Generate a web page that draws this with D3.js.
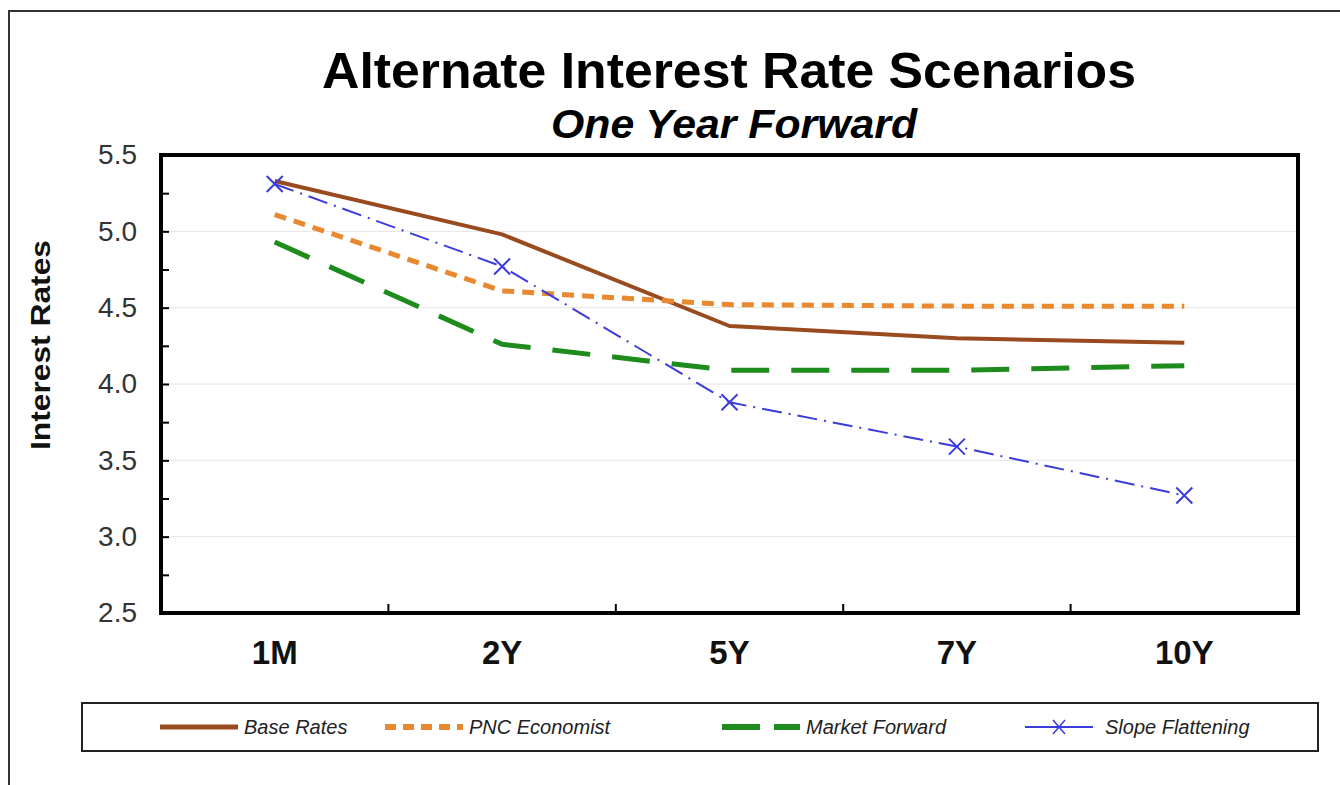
<!DOCTYPE html>
<html>
<head>
<meta charset="utf-8">
<script src="https://cdn.jsdelivr.net/npm/d3@7"></script>
<style>
  body { margin: 0; background: #fff; }
  text { font-family: Arial, "Liberation Sans", sans-serif; }
</style>
</head>
<body>
<script>
var width = 1340;
var height = 785;

// data
var categories = ["1M", "2Y", "5Y", "7Y", "10Y"];
var baseRates = [5.33, 4.98, 4.38, 4.30, 4.27];
var pncEconomist = [5.11, 4.61, 4.52, 4.51, 4.51];
var marketForward = [4.93, 4.26, 4.09, 4.09, 4.12];
var slopeFlattening = [5.31, 4.77, 3.88, 3.59, 3.27];
var yTicks = [2.5, 3.0, 3.5, 4.0, 4.5, 5.0, 5.5];
var yMinorTicks = [2.75, 3.25, 3.75, 4.25, 4.75, 5.25];

var seriesList = [
  { name: "Base Rates", values: baseRates, color: "#9a4a1f", width: 4, dash: null },
  { name: "PNC Economist", values: pncEconomist, color: "#e8892f", width: 5, dash: "12,8" },
  { name: "Market Forward", values: marketForward, color: "#1d8c1d", width: 5, dash: "38,22" },
  { name: "Slope Flattening", values: slopeFlattening, color: "#3b3bdc", width: 2, dash: "20,7,2,7", marker: true }
];

var svg = d3.select("body").append("svg")
  .attr("width", width)
  .attr("height", height);

// outer frame (top and left edges only visible)
svg.append("path")
  .attr("d", "M9,785 L9,11 L1340,11")
  .attr("fill", "none")
  .attr("stroke", "#333")
  .attr("stroke-width", 2);

var plot = { left: 161, top: 155, right: 1298, bottom: 613 };
var plotWidth = plot.right - plot.left;
var plotHeight = plot.bottom - plot.top;

var g = svg.append("g")
  .attr("transform", "translate(" + plot.left + "," + plot.top + ")");

var xScale = d3.scaleBand().domain(categories).range([0, plotWidth]);
var yScale = d3.scaleLinear().domain([2.5, 5.5]).range([plotHeight, 0]);

// gridlines
g.append("g").selectAll("line")
  .data(yTicks.slice(1, -1))
  .join("line")
  .attr("x1", 0).attr("x2", plotWidth)
  .attr("y1", d => yScale(d)).attr("y2", d => yScale(d))
  .attr("stroke", "#e4e4e4")
  .attr("stroke-width", 1);

// y axis: labels + inward major ticks
var yAxis = d3.axisLeft(yScale)
  .tickValues(yTicks)
  .tickFormat(d3.format(".1f"))
  .tickSize(-8)
  .tickPadding(24);
var yAxisGroup = g.append("g").call(yAxis);
yAxisGroup.select(".domain").remove();
yAxisGroup.selectAll("line").attr("stroke", "#000").attr("stroke-width", 2);
yAxisGroup.selectAll("text")
  .attr("font-size", 28)
  .attr("fill", "#333")
  .attr("font-family", "Arial, 'Liberation Sans', sans-serif");

// minor ticks
var yMinor = d3.axisLeft(yScale).tickValues(yMinorTicks).tickFormat("").tickSize(-8);
var yMinorGroup = g.append("g").call(yMinor);
yMinorGroup.select(".domain").remove();
yMinorGroup.selectAll("line").attr("stroke", "#000").attr("stroke-width", 2);

// x axis labels
var xAxis = d3.axisBottom(xScale).tickSize(0).tickPadding(28);
var xAxisGroup = g.append("g")
  .attr("transform", "translate(0," + plotHeight + ")")
  .call(xAxis);
xAxisGroup.select(".domain").remove();
xAxisGroup.selectAll("text")
  .attr("font-size", 33)
  .attr("font-weight", "bold")
  .attr("fill", "#111")
  .attr("font-family", "Arial, 'Liberation Sans', sans-serif");

// x category boundary ticks (pointing up)
g.append("g").selectAll("line")
  .data(categories.slice(1))
  .join("line")
  .attr("x1", d => xScale(d)).attr("x2", d => xScale(d))
  .attr("y1", plotHeight).attr("y2", plotHeight - 9)
  .attr("stroke", "#000")
  .attr("stroke-width", 2);

// series lines
var line = d3.line()
  .x((d, i) => xScale(categories[i]) + xScale.bandwidth() / 2)
  .y(d => yScale(d));

seriesList.forEach(function (s) {
  g.append("path")
    .datum(s.values)
    .attr("d", line)
    .attr("fill", "none")
    .attr("stroke", s.color)
    .attr("stroke-width", s.width)
    .attr("stroke-dasharray", s.dash)
    .attr("stroke-linejoin", "round");
  if (s.marker) {
    g.append("g").selectAll("path")
      .data(s.values)
      .join("path")
      .attr("transform", (d, i) => "translate(" + (xScale(categories[i]) + xScale.bandwidth() / 2) + "," + yScale(d) + ")")
      .attr("d", "M-8,-8L8,8M-8,8L8,-8")
      .attr("stroke", s.color)
      .attr("stroke-width", 2);
  }
});

// plot frame
g.append("rect")
  .attr("x", 0).attr("y", 0)
  .attr("width", plotWidth).attr("height", plotHeight)
  .attr("fill", "none")
  .attr("stroke", "#000")
  .attr("stroke-width", 4);

// titles
svg.append("text")
  .attr("x", 729).attr("y", 88)
  .attr("text-anchor", "middle")
  .attr("font-size", 50)
  .attr("font-weight", "bold")
  .attr("textLength", 814)
  .attr("lengthAdjust", "spacingAndGlyphs")
  .attr("fill", "#000")
  .text("Alternate Interest Rate Scenarios");

svg.append("text")
  .attr("x", 734).attr("y", 138)
  .attr("text-anchor", "middle")
  .attr("font-size", 40)
  .attr("font-weight", "bold")
  .attr("font-style", "italic")
  .attr("textLength", 366)
  .attr("lengthAdjust", "spacingAndGlyphs")
  .attr("fill", "#000")
  .text("One Year Forward");

// y axis title
svg.append("text")
  .attr("transform", "translate(50,345) rotate(-90)")
  .attr("text-anchor", "middle")
  .attr("font-size", 27)
  .attr("font-weight", "bold")
  .attr("textLength", 210)
  .attr("lengthAdjust", "spacingAndGlyphs")
  .attr("fill", "#111")
  .text("Interest Rates");

// legend
var legend = svg.append("g");
legend.append("rect")
  .attr("x", 82).attr("y", 703)
  .attr("width", 1236).attr("height", 48)
  .attr("fill", "#fff")
  .attr("stroke", "#222")
  .attr("stroke-width", 2);

var legendX = [160, 385, 722, 1025];
var legendY = 727;
seriesList.forEach(function (s, i) {
  var x0 = legendX[i];
  var item = legend.append("g");
  if (s.marker) {
    item.append("line")
      .attr("x1", x0).attr("x2", x0 + 68)
      .attr("y1", legendY).attr("y2", legendY)
      .attr("stroke", s.color).attr("stroke-width", 2);
    item.append("path")
      .attr("d", "M" + (x0 + 28) + "," + (legendY - 7) + "L" + (x0 + 40) + "," + (legendY + 7) +
        "M" + (x0 + 28) + "," + (legendY + 7) + "L" + (x0 + 40) + "," + (legendY - 7))
      .attr("stroke", s.color).attr("stroke-width", 1.5);
  } else {
    item.append("line")
      .attr("x1", x0).attr("x2", x0 + 78)
      .attr("y1", legendY).attr("y2", legendY)
      .attr("stroke", s.color)
      .attr("stroke-width", s.width + 1)
      .attr("stroke-dasharray", s.dash ? (i === 1 ? "11,7" : "38,14") : null);
  }
  item.append("text")
    .attr("x", x0 + (s.marker ? 80 : 84))
    .attr("y", legendY + 7)
    .attr("font-size", 20)
    .attr("font-style", "italic")
    .attr("fill", "#222")
    .text(s.name);
});
</script>
</body>
</html>
